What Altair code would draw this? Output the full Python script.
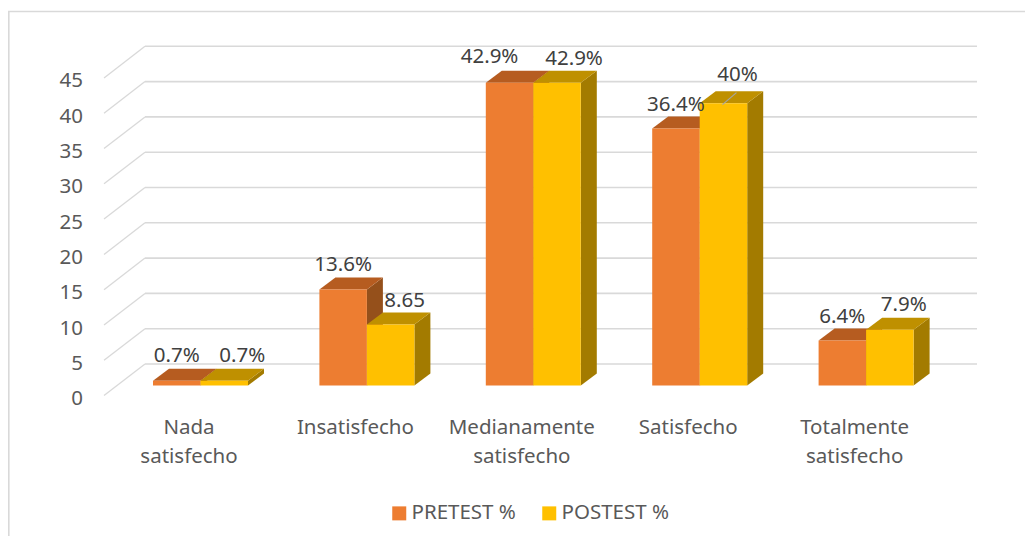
import altair as alt
import pandas as pd

categories = ["Nada\nsatisfecho", "Insatisfecho", "Medianamente\nsatisfecho", "Satisfecho", "Totalmente\nsatisfecho"]
pretest = [0.7, 13.6, 42.9, 36.4, 6.4]
posttest = [0.7, 8.65, 42.9, 40, 7.9]
pre_labels = ["0.7%", "13.6%", "42.9%", "36.4%", "6.4%"]
post_labels = ["0.7%", "8.65", "42.9%", "40%", "7.9%"]
series_names = ["PRETEST %", "POSTEST %"]
front_colors = ["#ED7D31", "#FFC000"]
top_colors = ["#B65C20", "#BF9000"]
side_colors = ["#95501B", "#A37B00"]
grid_ticks = [0, 5, 10, 15, 20, 25, 30, 35, 40, 45]

FONT = "Noto Sans"
FS = 20.5
W, H = 1017, 528
PX_PER_CAT = 166.4
PX_PER_VAL = 7.06
X0, Y0 = 200.5, 385.6          # page px of category 0 centre and bar base


def cat(px):
    return (px - X0) / PX_PER_CAT


def val(py):
    return (Y0 - py) / PX_PER_VAL


BAR_W = 47.5 / PX_PER_CAT
BAR_DX = 16 / PX_PER_CAT
BAR_DV = 12 / PX_PER_VAL
WALL_L, WALL_B, WALL_R = cat(104), cat(145), cat(977)
FRONT_SHIFT, BACK_SHIFT = val(395.6), val(364)

xs = alt.Scale(domain=[cat(8), cat(8 + W)], nice=False, zero=False)
ys = alt.Scale(domain=[val(8 + H), val(8)], nice=False, zero=False)
X = lambda f: alt.X(f, type="quantitative", scale=xs, axis=None)
Y = lambda f: alt.Y(f, type="quantitative", scale=ys, axis=None)

layers = []

# outer frame
frame = pd.DataFrame({"x": [cat(8.8), cat(8.8), cat(8 + W)], "y": [val(8 + H), val(11.5), val(11.5)], "o": [0, 1, 2]})
layers.append(alt.Chart(frame).mark_line(color="#D9D9D9", strokeWidth=1.6).encode(X("x"), Y("y"), order="o"))

# walls
back = pd.DataFrame({"x": WALL_B, "x2": WALL_R, "y": [g + BACK_SHIFT for g in grid_ticks]})
layers.append(alt.Chart(back).mark_rule(color="#D9D9D9", strokeWidth=1.6).encode(X("x"), x2="x2", y=Y("y")))
diag = pd.DataFrame({"x": WALL_L, "x2": WALL_B, "y": [g + FRONT_SHIFT for g in grid_ticks], "y2": [g + BACK_SHIFT for g in grid_ticks]})
layers.append(alt.Chart(diag).mark_rule(color="#D9D9D9", strokeWidth=1.3).encode(X("x"), x2="x2", y=Y("y"), y2="y2"))

# bars
color = alt.Color("series:N", scale=alt.Scale(domain=series_names, range=front_colors),
                  legend=alt.Legend(orient="none", legendX=381, legendY=495, direction="horizontal", title=None,
                                    symbolType="square", symbolSize=196, symbolStrokeWidth=0, labelFont=FONT,
                                    labelFontSize=FS, labelColor="#595959", columnPadding=23, labelOffset=2))
for s, (name, values) in enumerate(zip(series_names, [pretest, posttest])):
    left = [i - BAR_W + s * BAR_W for i in range(len(values))]
    sides, tops = [], []
    for i, (l, v) in enumerate(zip(left, values)):
        r = l + BAR_W
        sides += [dict(b=i, x=r, y=0, y2=v), dict(b=i, x=r + BAR_DX, y=BAR_DV, y2=v + BAR_DV)]
        tops += [dict(b=i, x=l, y=v, y2=v), dict(b=i, x=l + BAR_DX, y=v, y2=v + BAR_DV),
                 dict(b=i, x=r, y=v, y2=v + BAR_DV), dict(b=i, x=r + BAR_DX, y=v + BAR_DV, y2=v + BAR_DV)]
    layers.append(alt.Chart(pd.DataFrame(sides)).mark_area(color=side_colors[s]).encode(X("x"), Y("y"), y2="y2", detail="b:N"))
    layers.append(alt.Chart(pd.DataFrame(tops)).mark_area(color=top_colors[s]).encode(X("x"), Y("y"), y2="y2", detail="b:N"))
    front = pd.DataFrame({"x": left, "x2": [l + BAR_W for l in left], "y": 0, "y2": values, "series": name})
    layers.append(alt.Chart(front).mark_rect().encode(X("x"), x2="x2", y=Y("y"), y2="y2", color=color))

# data labels (Excel places them by hand, hence per-label nudges in px)
pre_nudge = [(0, 0), (0, 0), (-20, -1), (0, 1), (0, 1)]
post_nudge = [(18, 0), (14, 1), (17, 1), (14, -4), (14, 0)]
lab = []
for s, (values, labels, nudge) in enumerate(zip([pretest, posttest], [pre_labels, post_labels], [pre_nudge, post_nudge])):
    for i, (v, t, (dx, dy)) in enumerate(zip(values, labels, nudge)):
        cx = i - BAR_W / 2 + s * BAR_W
        lab.append(dict(x=cx + dx / PX_PER_CAT, y=v + (24.6 - dy) / PX_PER_VAL, t=t))
layers.append(alt.Chart(pd.DataFrame(lab)).mark_text(font=FONT, fontSize=FS, color="#404040", baseline="middle", align="center")
              .encode(X("x"), Y("y"), text="t:N"))

# leader line of the 40% label
li = pd.DataFrame({"x": [3 + BAR_W / 2 - 1 / PX_PER_CAT], "x2": [3 + BAR_W / 2 + 13 / PX_PER_CAT],
                   "y": [40 - 0.2], "y2": [40 + 1.5]})
layers.append(alt.Chart(li).mark_rule(color="#A6A6A6", strokeWidth=1.2).encode(X("x"), x2="x2", y=Y("y"), y2="y2"))

# axis texts
cats = pd.DataFrame({"x": [i - 11.5 / PX_PER_CAT for i in range(5)], "y": val(428), "t": categories})
layers.append(alt.Chart(cats).mark_text(font=FONT, fontSize=FS, color="#595959", baseline="middle", align="center", lineBreak="\n", lineHeight=29)
              .encode(X("x"), Y("y"), text="t:N"))
ticks = pd.DataFrame({"x": cat(83), "y": [g + FRONT_SHIFT - 3.5 / PX_PER_VAL for g in grid_ticks], "t": [str(g) for g in grid_ticks]})
layers.append(alt.Chart(ticks).mark_text(font=FONT, fontSize=FS, color="#595959", baseline="middle", align="right")
              .encode(X("x"), Y("y"), text="t:N"))

chart = alt.layer(*layers).properties(width=W, height=H, padding=0, autosize=alt.AutoSizeParams(type="none"),
                                      background="white").configure_view(stroke=None)
chart.save("out.html", embed_options={"renderer": "svg", "actions": False})
